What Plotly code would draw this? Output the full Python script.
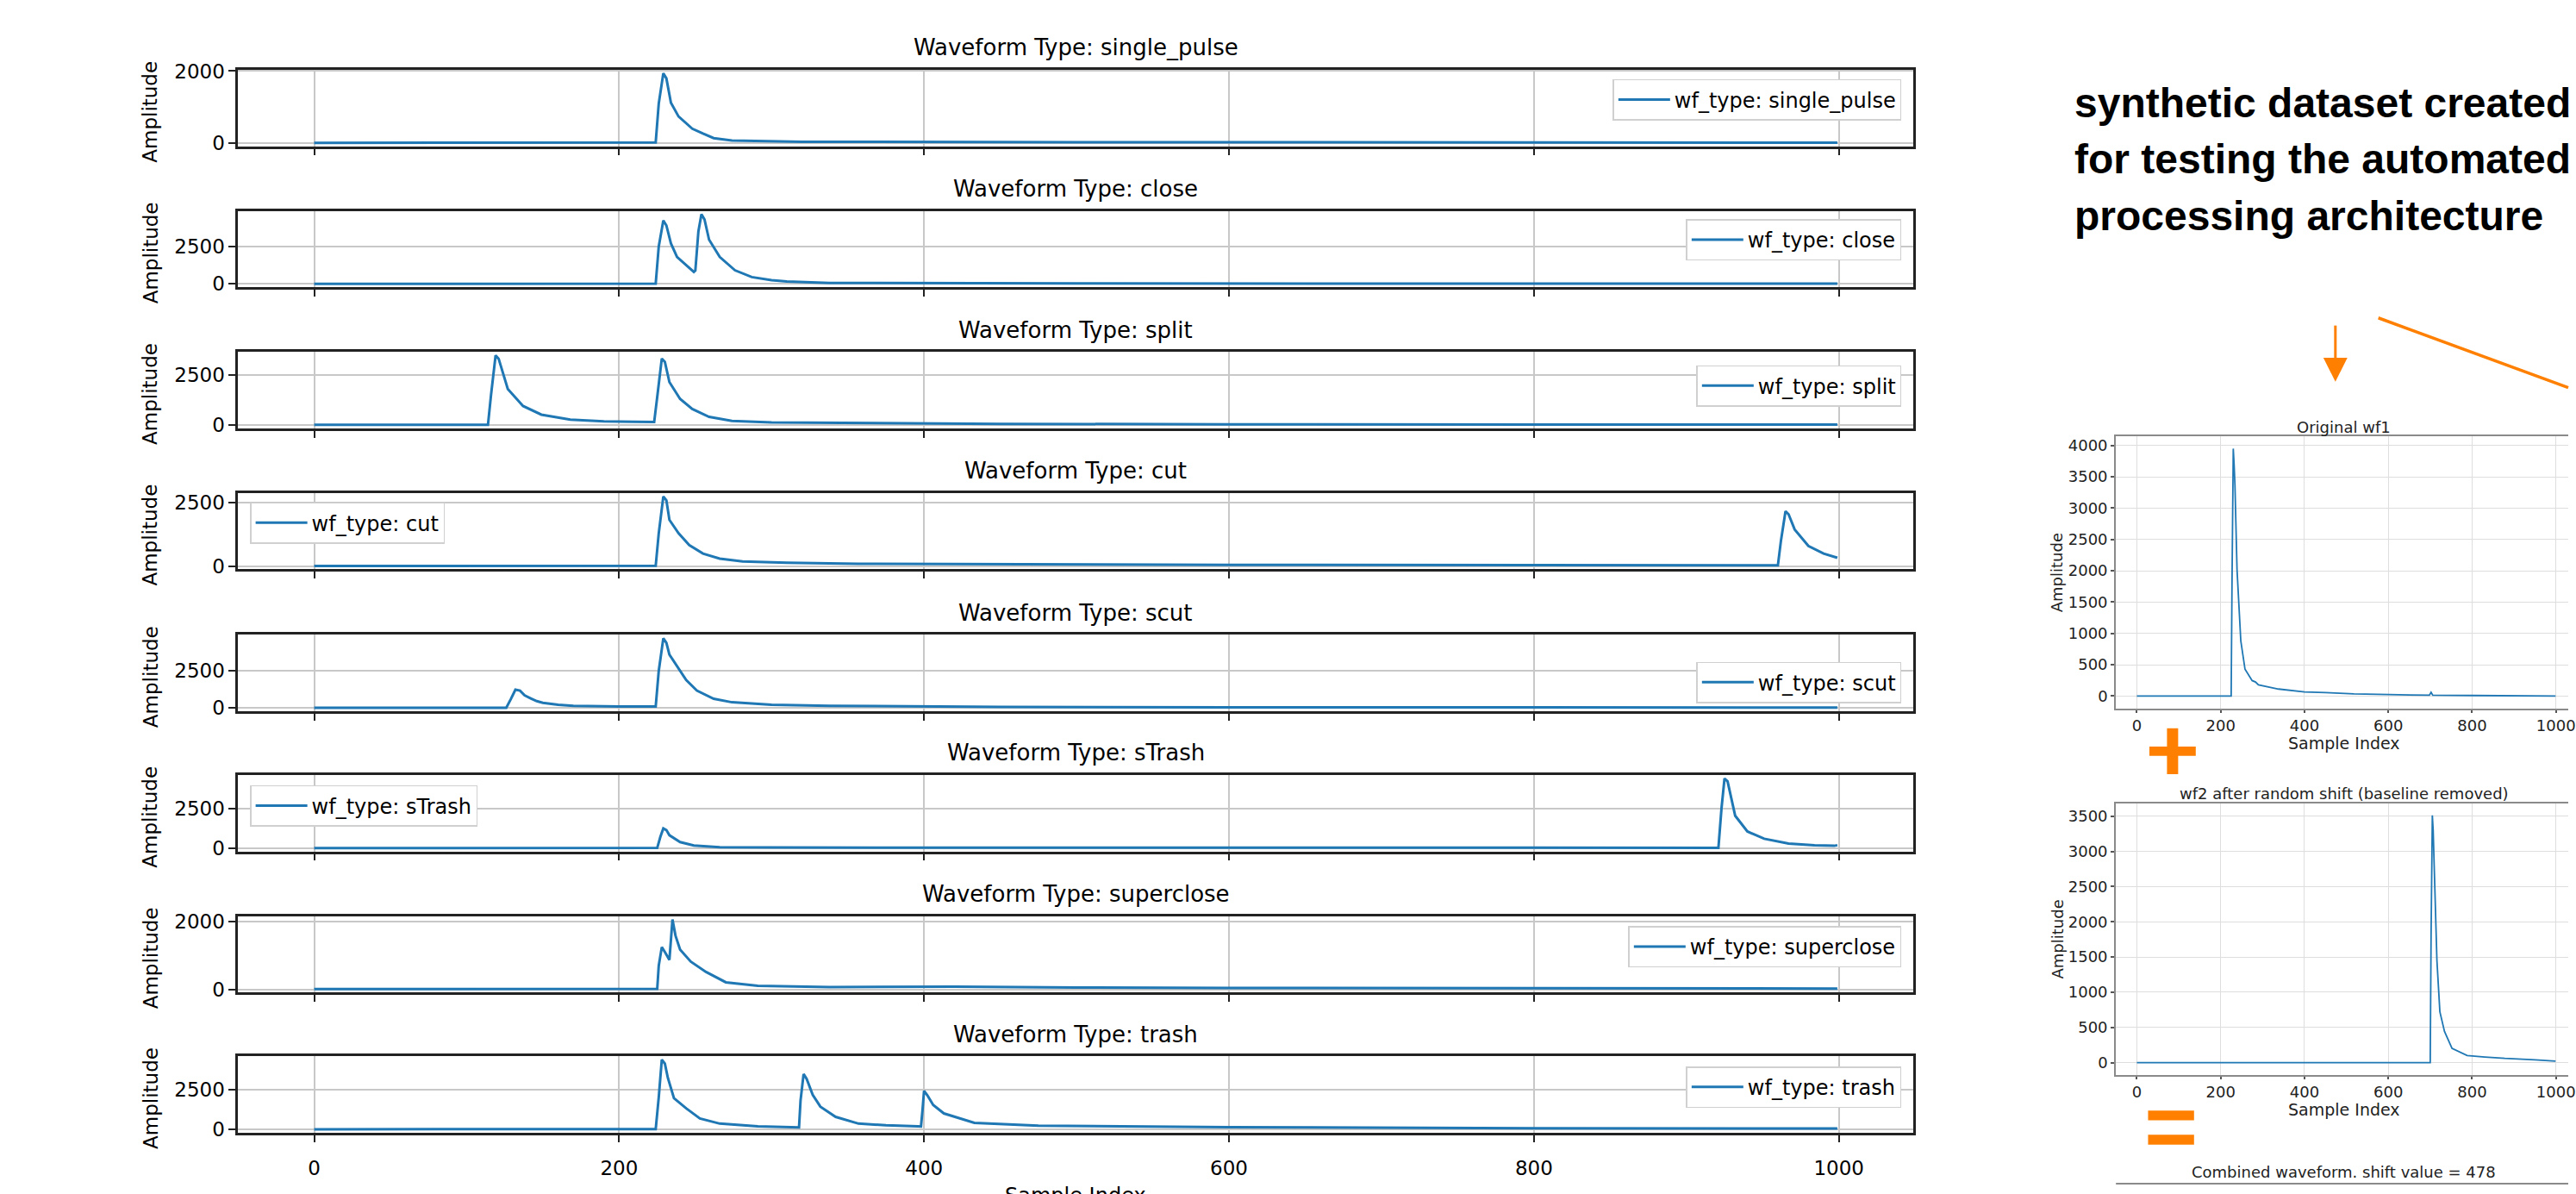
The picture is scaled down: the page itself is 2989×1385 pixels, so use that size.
import plotly.graph_objects as go

# ---------------- data ----------------
wf_types = ["single_pulse", "close", "split", "cut", "scut", "sTrash", "superclose", "trash"]

single_pulse_idx = [0, 100, 200, 224, 226, 229, 231, 234, 239, 244, 248, 255, 262, 274, 291, 320, 360, 420, 500, 600, 700, 800, 900, 999]
single_pulse_amp = [10, 15, 10, 20, 1100, 1940, 1800, 1120, 740, 550, 400, 265, 140, 75, 55, 35, 40, 30, 28, 25, 22, 20, 18, 15]

close_idx = [0, 100, 200, 224, 226, 229, 231, 234, 238, 244, 249, 250, 252, 254, 256, 259, 266, 276, 287, 300, 310, 338, 400, 500, 700, 999]
close_amp = [10, 15, 10, 20, 2500, 4230, 3900, 2700, 1800, 1250, 800, 900, 3500, 4640, 4300, 2950, 1800, 910, 460, 260, 165, 70, 45, 35, 25, 20]

split_idx = [0, 50, 100, 114, 116, 119, 121, 127, 137, 149, 168, 190, 210, 223, 225, 228, 230, 233, 240, 248, 259, 274, 300, 357, 450, 600, 800, 999]
split_amp = [10, 12, 10, 15, 1500, 3470, 3300, 1800, 950, 520, 270, 190, 160, 150, 1400, 3310, 3150, 2140, 1300, 800, 410, 210, 127, 93, 60, 40, 30, 20]

cut_idx = [0, 100, 200, 224, 226, 229, 231, 233, 239, 246, 255, 266, 281, 310, 357, 450, 600, 800, 900, 960, 962, 965, 967, 971, 980, 990, 999]
cut_amp = [10, 12, 10, 15, 1300, 2756, 2600, 1830, 1300, 830, 500, 300, 190, 138, 97, 70, 50, 40, 35, 30, 1000, 2170, 2050, 1450, 800, 500, 330]

scut_idx = [0, 100, 126, 129, 132, 135, 138, 142, 146, 150, 160, 170, 185, 200, 224, 226, 229, 231, 233, 238, 244, 251, 262, 274, 300, 338, 450, 600, 800, 999]
scut_amp = [10, 12, 10, 600, 1230, 1170, 850, 650, 460, 350, 220, 150, 110, 100, 95, 2500, 4700, 4400, 3600, 2800, 1880, 1170, 624, 384, 222, 150, 70, 45, 35, 25]

strash_idx = [0, 100, 200, 225, 227, 229, 231, 233, 240, 249, 266, 300, 400, 600, 800, 921, 923, 925, 927, 932, 940, 951, 967, 984, 997, 999]
strash_amp = [10, 12, 10, 15, 700, 1253, 1150, 820, 390, 175, 66, 40, 30, 25, 20, 25, 2500, 4430, 4250, 2060, 1060, 600, 290, 180, 150, 190]

superclose_idx = [0, 100, 200, 225, 226, 228, 230, 233, 235, 237, 240, 247, 257, 270, 291, 338, 420, 500, 600, 800, 999]
superclose_amp = [10, 12, 10, 15, 700, 1244, 1100, 869, 2056, 1580, 1170, 817, 514, 208, 105, 70, 80, 55, 45, 35, 25]

trash_idx = [0, 100, 200, 224, 226, 228, 230, 232, 236, 244, 253, 266, 291, 317, 318, 319, 321, 323, 327, 332,
             342, 357, 375, 396, 398, 399, 400, 402, 406, 413, 433, 475, 600, 800, 999]
trash_amp = [10, 12, 10, 15, 2000, 4340, 4100, 3200, 1940, 1310, 680, 360, 190, 128, 120, 1800, 3450, 3150, 2150, 1420,
             780, 360, 255, 190, 180, 1200, 2400, 2150, 1520, 995, 410, 234, 144, 70, 53]

wf1_idx = [0, 100, 200, 225, 227, 230, 232, 234, 239, 248, 258, 275, 283, 290, 338, 400, 450, 518, 600, 698, 702, 706, 800, 900, 999]
wf1_amp = [0, 0, 0, 0, 1800, 3950, 3700, 3370, 2016, 881, 429, 248, 225, 180, 113, 68, 55, 35, 25, 14, 60, 15, 10, 8, 0]

wf2_idx = [0, 200, 400, 600, 700, 702, 705, 707, 710, 716, 723, 734, 752, 788, 830, 878, 950, 999]
wf2_amp = [0, 0, 0, 0, 0, 1800, 3510, 3300, 2650, 1445, 722, 442, 201, 100, 80, 60, 40, 20]

x_ticks = [0, 200, 400, 600, 800, 1000]
left_y_dtick = [2000, 2500, 2500, 2500, 2500, 2500, 2000, 2500]
shift_value = 478

series = [
    (single_pulse_idx, single_pulse_amp),
    (close_idx, close_amp),
    (split_idx, split_amp),
    (cut_idx, cut_amp),
    (scut_idx, scut_amp),
    (strash_idx, strash_amp),
    (superclose_idx, superclose_amp),
    (trash_idx, trash_amp),
]

# ---------------- layout helpers ----------------
W, H = 2989, 1385
BLUE = "#1f77b4"
ORANGE = "#ff8000"
FONT = "DejaVu Sans"


def px(x):
    return x / W


def py(y):
    return 1 - y / H


def mpl_range(vals):
    lo, hi = min(vals), max(vals)
    pad = 0.05 * (hi - lo)
    return [lo - pad, hi + pad]


LEFT_TOPS = [71, 237, 403, 569, 736, 901, 1067, 1232]
BOX_H = 90
LX0, LX1 = 277, 2227

# legend placement: (x, xanchor, y, yanchor)
legend_pos = [
    (2213, "right", 71 + 11, "top"),
    (2213, "right", 237 + 10, "top"),
    (2213, "right", 443, "middle"),
    (291, "left", 569 + 11, "top"),
    (2213, "right", 792, "middle"),
    (291, "left", 901 + 12, "top"),
    (2213, "right", 1067 + 12, "top"),
    (2213, "right", 1232 + 12, "top"),
]

fig = go.Figure()
layout = dict(
    width=W, height=H, margin=dict(l=0, r=0, t=0, b=0),
    paper_bgcolor="white", plot_bgcolor="white",
    font=dict(family=FONT, color="black"),
    showlegend=True,
)
annotations = []
shapes = []

for i, (name, (xs, ys)) in enumerate(zip(wf_types, series)):
    n = i + 1
    xa = "x" if n == 1 else f"x{n}"
    ya = "y" if n == 1 else f"y{n}"
    lg = "legend" if n == 1 else f"legend{n}"
    fig.add_trace(go.Scatter(
        x=xs, y=ys, mode="lines", name=f"wf_type: {name}",
        line=dict(color=BLUE, width=3), xaxis=xa, yaxis=ya, legend=lg,
    ))
    top = LEFT_TOPS[i]
    layout[f"xaxis{'' if n == 1 else n}"] = dict(
        domain=[px(LX0), px(LX1)], range=[-49.95, 1048.95], anchor=ya,
        tickvals=x_ticks, showticklabels=(i == len(wf_types) - 1),
        ticks="outside", ticklen=8, tickwidth=2, tickcolor="#222",
        showline=True, linecolor="#222", linewidth=2.5, mirror=True,
        showgrid=True, gridcolor="#c8c8c8", gridwidth=1.5, zeroline=False,
        tickfont=dict(size=23, family=FONT, color="black"), ticklabelstandoff=11,
    )
    layout[f"yaxis{'' if n == 1 else n}"] = dict(
        domain=[py(top + BOX_H), py(top)], range=mpl_range(ys), anchor=xa,
        tick0=0, dtick=left_y_dtick[i],
        ticks="outside", ticklen=8, tickwidth=2, tickcolor="#222",
        showline=True, linecolor="#222", linewidth=2.5, mirror=True,
        showgrid=True, gridcolor="#c8c8c8", gridwidth=1.5, zeroline=False,
        tickfont=dict(size=23, family=FONT, color="black"),
    )
    lx, lxa, lyy, lya = legend_pos[i]
    layout[lg] = dict(
        x=px(lx), xanchor=lxa, y=py(lyy), yanchor=lya,
        bgcolor="white", bordercolor="#d0d0d0", borderwidth=1.5,
        font=dict(size=24, family=FONT, color="black"), itemwidth=60,
    )
    annotations.append(dict(
        text=f"Waveform Type: {name}", x=px((LX0 + LX1) / 2), y=py(top - 26),
        xref="paper", yref="paper", showarrow=False, xanchor="center", yanchor="middle",
        font=dict(size=26, family=FONT, color="black"),
    ))
    annotations.append(dict(
        text="Amplitude", x=px(175), y=py(top + 49), textangle=-90,
        xref="paper", yref="paper", showarrow=False, xanchor="center", yanchor="middle",
        font=dict(size=23, family=FONT, color="black"),
    ))

annotations.append(dict(
    text="Sample Index", x=px((LX0 + LX1) / 2), y=py(1380),
    xref="paper", yref="paper", showarrow=False, xanchor="center", yanchor="top",
    font=dict(size=24, family=FONT, color="black"),
))

# ---------------- right-hand panels ----------------
RX0 = 2462.6
right_panels = [
    ("Original wf1", wf1_idx, wf1_amp, 502.3, 822.7),
    ("wf2 after random shift (baseline removed)", wf2_idx, wf2_amp, 934, 1254),
]
for j, (title, xs, ys, top, bot) in enumerate(right_panels):
    n = 9 + j
    fig.add_trace(go.Scatter(
        x=xs, y=ys, mode="lines", line=dict(color=BLUE, width=1.8),
        xaxis=f"x{n}", yaxis=f"y{n}", showlegend=False,
    ))
    layout[f"xaxis{n}"] = dict(
        domain=[px(RX0), 1.0], range=[-49.95, 1029.3], anchor=f"y{n}",
        tickvals=x_ticks, ticks="outside", ticklen=3, tickwidth=1.5, tickcolor="#555",
        showline=True, linecolor="#8a8a8a", linewidth=2, mirror=True,
        showgrid=True, gridcolor="#dedede", gridwidth=1.3, zeroline=False,
        tickfont=dict(size=18, family=FONT, color="#222"), ticklabeloverflow="allow",
    )
    layout[f"yaxis{n}"] = dict(
        domain=[py(bot), py(top)], range=mpl_range(ys), anchor=f"x{n}",
        tick0=0, dtick=500, ticks="outside", ticklen=4, tickwidth=1.5, tickcolor="#555",
        showline=True, linecolor="#8a8a8a", linewidth=2, mirror=False,
        showgrid=True, gridcolor="#dedede", gridwidth=1.3, zeroline=False,
        tickfont=dict(size=18, family=FONT, color="#222"),
    )
    annotations.append(dict(
        text=title, x=px(2728), y=py(top - 11), xref="paper", yref="paper",
        showarrow=False, xanchor="center", yanchor="middle",
        font=dict(size=18, family=FONT, color="#222"),
    ))
    annotations.append(dict(
        text="Amplitude", x=px(2394.5), y=py((top + bot) / 2), textangle=-90,
        xref="paper", yref="paper", showarrow=False, xanchor="center", yanchor="middle",
        font=dict(size=18, family=FONT, color="#222"),
    ))
    annotations.append(dict(
        text="Sample Index", x=px(2728), y=py(bot + 41), xref="paper", yref="paper",
        showarrow=False, xanchor="center", yanchor="middle",
        font=dict(size=19, family=FONT, color="#222"),
    ))

annotations.append(dict(
    text=f"Combined waveform. shift value = {shift_value}", x=px(2728), y=py(1368),
    xref="paper", yref="paper", showarrow=False, xanchor="center", yanchor="middle",
    font=dict(size=18, family=FONT, color="#222"),
))
shapes.append(dict(type="line", xref="paper", yref="paper",
                   x0=px(RX0), x1=1.0, y0=py(1382), y1=py(1382),
                   line=dict(color="#8a8a8a", width=2)))

# ---------------- big note text ----------------
note_lines = ["synthetic dataset created", "for testing the automated", "processing architecture"]
note_baselines = [127, 193, 260]
NOTE_FS = 48
for txt, base in zip(note_lines, note_baselines):
    annotations.append(dict(
        text=f"<b>{txt}</b>", x=px(2412), y=py(base - 0.3465 * NOTE_FS),
        xref="paper", yref="paper", showarrow=False, xanchor="left", yanchor="middle",
        font=dict(size=NOTE_FS, family="Liberation Sans", color="black"),
    ))

# ---------------- orange marks ----------------
# down arrow
shapes.append(dict(type="line", xref="paper", yref="paper",
                   x0=px(2718), x1=px(2718), y0=py(372), y1=py(412),
                   line=dict(color=ORANGE, width=3)))
shapes.append(dict(type="path", xref="paper", yref="paper",
                   path=f"M {px(2704)} {py(410)} L {px(2732)} {py(410)} L {px(2718)} {py(438)} Z",
                   fillcolor=ORANGE, line=dict(color=ORANGE, width=0)))
# diagonal arrow line going off to the right
shapes.append(dict(type="line", xref="paper", yref="paper",
                   x0=px(2768), y0=py(363), x1=1.0, y1=py(445),
                   line=dict(color=ORANGE, width=3.5)))
# plus sign
shapes.append(dict(type="rect", xref="paper", yref="paper",
                   x0=px(2501.5), x1=px(2555.5), y0=py(878.5), y1=py(867.5),
                   fillcolor=ORANGE, line=dict(width=0)))
shapes.append(dict(type="rect", xref="paper", yref="paper",
                   x0=px(2522), x1=px(2535), y0=py(900), y1=py(846),
                   fillcolor=ORANGE, line=dict(width=0)))
# equals sign
shapes.append(dict(type="rect", xref="paper", yref="paper",
                   x0=px(2500), x1=px(2553.5), y0=py(1307.5), y1=py(1296),
                   fillcolor=ORANGE, line=dict(width=0)))
shapes.append(dict(type="rect", xref="paper", yref="paper",
                   x0=px(2500), x1=px(2553.5), y0=py(1336), y1=py(1324.5),
                   fillcolor=ORANGE, line=dict(width=0)))

layout["annotations"] = annotations
layout["shapes"] = shapes
fig.update_layout(**layout)

fig.write_html(
    "out.html",
    config={"displayModeBar": False},
    post_script="document.body.style.margin='0';document.body.style.overflow='hidden';",
)
